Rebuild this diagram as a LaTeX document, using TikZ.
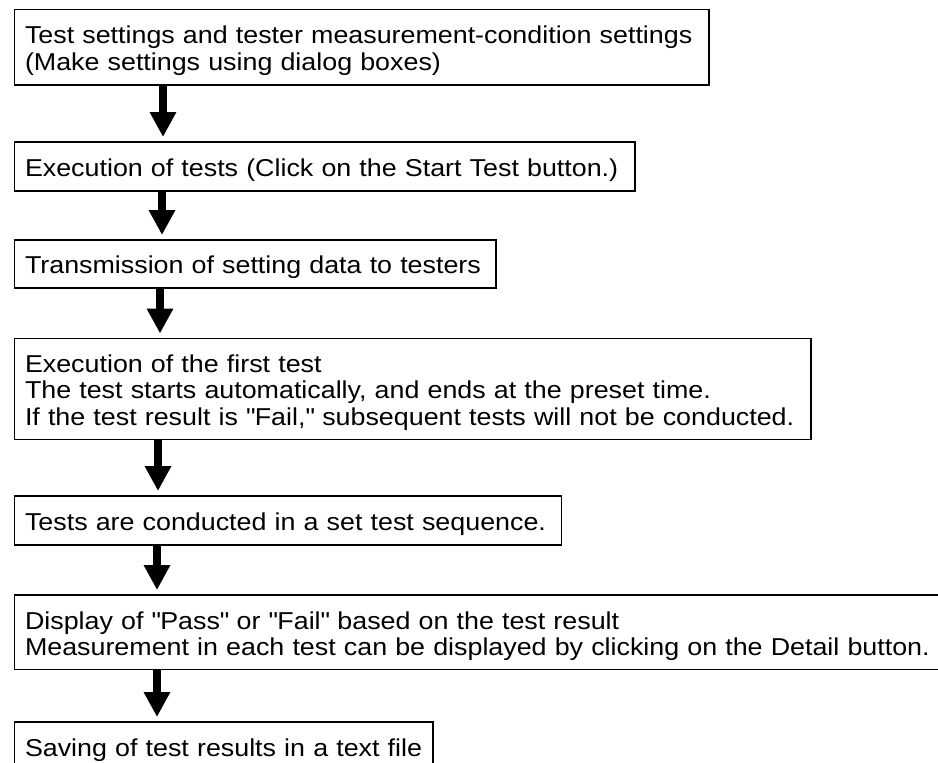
\documentclass[tikz,border=0pt]{standalone}
\usepackage{fontspec}
\setmainfont{Liberation Sans}[FakeStretch=1.10]
\usetikzlibrary{arrows.meta}
\begin{document}
\begin{tikzpicture}[x=1pt,y=-1pt,
  stepbox/.style={draw, line width=1.3pt, rectangle, inner sep=0pt, outer sep=0pt, anchor=north west},
  lbl/.style={anchor=base west, inner sep=0pt, outer sep=0pt, text width=1000pt, align=left, font=\fontsize{24.4}{26.7}\selectfont},
  flow/.style={line width=8pt, -{Triangle[width=25pt,length=25pt]}}]
\useasboundingbox (0,0) rectangle (938,763);
\clip (0,0) rectangle (938,763);

\node[stepbox, minimum width=694.5pt, minimum height=75.7pt] (b1) at (14.5,9.3) {};
\node[lbl] (t1) at ([xshift=10.5pt,yshift=-34pt]b1.north west) {Test settings and tester measurement-condition settings\\(Make settings using dialog boxes)};

\node[stepbox, minimum width=620.5pt, minimum height=49pt] (b2) at (14.5,142) {};
\node[lbl] (t2) at ([xshift=10.5pt,yshift=-34pt]b2.north west) {Execution of tests (Click on the Start Test button.)};

\node[stepbox, minimum width=481.5pt, minimum height=48pt] (b3) at (14.5,240) {};
\node[lbl] (t3) at ([xshift=10.5pt,yshift=-33.5pt]b3.north west) {Transmission of setting data to testers};

\node[stepbox, minimum width=796.5pt, minimum height=101pt] (b4) at (14.5,338.5) {};
\node[lbl] (t4) at ([xshift=10.5pt,yshift=-33.5pt]b4.north west) {Execution of the first test\\The test starts automatically, and ends at the preset time.\\If the test result is \textquotedbl Fail,\textquotedbl{} subsequent tests will not be conducted.};

\node[stepbox, minimum width=547pt, minimum height=49pt] (b5) at (14.5,496) {};
\node[lbl] (t5) at ([xshift=10.5pt,yshift=-34pt]b5.north west) {Tests are conducted in a set test sequence.};

\node[stepbox, minimum width=925pt, minimum height=74.5pt] (b6) at (14.5,595) {};
\node[lbl] (t6) at ([xshift=10.5pt,yshift=-34pt]b6.north west) {Display of \textquotedbl Pass\textquotedbl{} or \textquotedbl Fail\textquotedbl{} based on the test result\\Measurement in each test can be displayed by clicking on the Detail button.};

\node[stepbox, minimum width=418.5pt, minimum height=49pt] (b7) at (14.5,722) {};
\node[lbl] (t7) at ([xshift=10.5pt,yshift=-34pt]b7.north west) {Saving of test results in a text file};

\draw[flow] ([xshift=148.5pt]b1.south west) -- ([xshift=148.5pt,yshift=5pt]b2.north west);
\draw[flow] ([xshift=147.5pt]b2.south west) -- ([xshift=147.5pt,yshift=5pt]b3.north west);
\draw[flow] ([xshift=145.5pt]b3.south west) -- ([xshift=145.5pt,yshift=5pt]b4.north west);
\draw[flow] ([xshift=143.5pt]b4.south west) -- ([xshift=143.5pt,yshift=5pt]b5.north west);
\draw[flow] ([xshift=142.5pt]b5.south west) -- ([xshift=142.5pt,yshift=5pt]b6.north west);
\draw[flow] ([xshift=142.5pt]b6.south west) -- ([xshift=142.5pt,yshift=5pt]b7.north west);
\end{tikzpicture}
\end{document}
